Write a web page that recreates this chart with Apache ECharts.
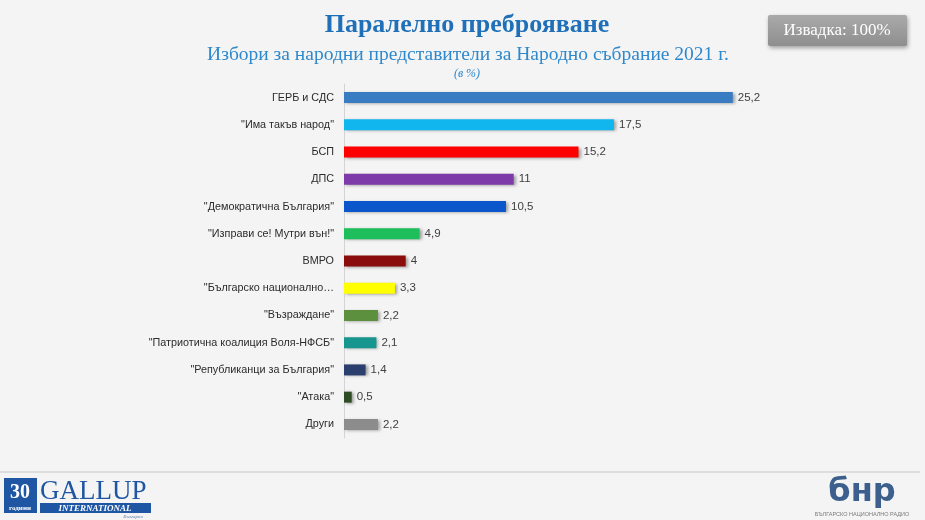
<!DOCTYPE html>
<html>
<head>
<meta charset="utf-8">
<title>Паралелно преброяване</title>
<script src="https://cdn.jsdelivr.net/npm/echarts@6/dist/echarts.min.js"></script>
<style>
  html, body { margin: 0; padding: 0; background: #f4f4f4; }
  #chart { width: 925px; height: 520px; }
</style>
</head>
<body>
<div id="chart"></div>
<script>
// данни от картинката
const parties = [
  'ГЕРБ и СДС',
  '"Има такъв народ"',
  'БСП',
  'ДПС',
  '"Демократична България"',
  '"Изправи се! Мутри вън!"',
  'ВМРО',
  '"Българско национално…',
  '"Възраждане"',
  '"Патриотична коалиция Воля-НФСБ"',
  '"Републиканци за България"',
  '"Атака"',
  'Други'
]
const values = [25.2, 17.5, 15.2, 11, 10.5, 4.9, 4, 3.3, 2.2, 2.1, 1.4, 0.5, 2.2]
const barColors = [
  '#3a7cc2', '#12b6ef', '#fe0000', '#7d3aa9', '#0c56cc', '#1dbe5b', '#8a0c0c',
  '#ffff00', '#5c8f3e', '#16968e', '#2b3f6f', '#2e4d25', '#8c8c8c'
]

const chart = echarts.init(document.getElementById('chart'))

const option = {
  backgroundColor: '#f4f4f4',
  animation: false,
  title: [
    {
      text: 'Паралелно преброяване',
      left: 462,
      top: 7,
      textAlign: 'center',
      textStyle: {
        fontFamily: 'Liberation Serif',
        fontWeight: 'bold',
        fontSize: 26,
        color: '#1f70b8'
      }
    },
    {
      text: 'Избори за народни представители за Народно събрание 2021 г.',
      left: 463,
      top: 40,
      textAlign: 'center',
      textStyle: {
        fontFamily: 'Liberation Serif',
        fontWeight: 'normal',
        fontSize: 19.5,
        color: '#2e88cc'
      }
    },
    {
      text: '(в %)',
      left: 462,
      top: 63,
      textAlign: 'center',
      textStyle: {
        fontFamily: 'Liberation Serif',
        fontStyle: 'italic',
        fontWeight: 'normal',
        fontSize: 12,
        color: '#2e88cc'
      }
    }
  ],
  grid: {
    left: 344,
    top: 84,
    width: 432,
    height: 354,
    containLabel: false
  },
  xAxis: {
    type: 'value',
    min: 0,
    max: 28,
    show: false
  },
  yAxis: {
    type: 'category',
    data: parties,
    inverse: true,
    axisLine: {
      show: true,
      lineStyle: { color: '#d4d4d4', width: 1 }
    },
    axisTick: { show: false },
    axisLabel: {
      margin: 10,
      color: '#2b2b2b',
      fontFamily: 'Liberation Sans',
      fontSize: 10.8
    }
  },
  series: [
    {
      type: 'bar',
      data: values.map((v, i) => ({ value: v, itemStyle: { color: barColors[i] } })),
      barWidth: 11,
      itemStyle: {
        shadowColor: 'rgba(0, 0, 0, 0.35)',
        shadowBlur: 3,
        shadowOffsetX: 2,
        shadowOffsetY: 1
      },
      label: {
        show: true,
        position: 'right',
        distance: 5,
        color: '#404040',
        fontFamily: 'Liberation Sans',
        fontSize: 11.5,
        formatter: p => String(p.value).replace('.', ',')
      }
    }
  ],
  graphic: [
    // Извадка
    {
      type: 'rect',
      shape: { x: 768, y: 15, width: 139, height: 31, r: 2 },
      style: {
        fill: new echarts.graphic.LinearGradient(0, 0, 0, 1, [
          { offset: 0, color: '#aaaaaa' },
          { offset: 1, color: '#8e8e8e' }
        ]),
        shadowColor: 'rgba(0,0,0,0.35)',
        shadowBlur: 4,
        shadowOffsetX: 1,
        shadowOffsetY: 2
      }
    },
    {
      type: 'text',
      x: 837,
      y: 31,
      style: {
        text: 'Извадка: 100%',
        fill: '#ffffff',
        font: '17px "Liberation Serif"',
        align: 'center',
        verticalAlign: 'middle'
      }
    },
    // линия отдолу
    {
      type: 'line',
      shape: { x1: 0, y1: 472, x2: 920, y2: 472 },
      style: { stroke: '#d6d6d6', lineWidth: 1.5 }
    },
    // Gallup лого
    {
      type: 'rect',
      shape: { x: 4, y: 478, width: 33, height: 35 },
      style: { fill: '#1f56a3' }
    },
    {
      type: 'text',
      x: 20, y: 493,
      style: { text: '30', fill: '#fff', font: 'bold 20px "Liberation Serif"', align: 'center', verticalAlign: 'middle' }
    },
    {
      type: 'text',
      x: 20, y: 508,
      style: { text: 'години', fill: '#fff', font: 'bold 7px "Liberation Serif"', align: 'center', verticalAlign: 'middle' }
    },
    {
      type: 'text',
      x: 40, y: 492,
      style: { text: 'GALLUP', fill: '#1f56a3', font: '27px "Liberation Serif"', verticalAlign: 'middle' }
    },
    {
      type: 'rect',
      shape: { x: 40, y: 503, width: 111, height: 10 },
      style: { fill: '#1f56a3' }
    },
    {
      type: 'text',
      x: 95, y: 508.5,
      style: { text: 'INTERNATIONAL', fill: '#fff', font: 'italic bold 9px "Liberation Serif"', align: 'center', verticalAlign: 'middle' }
    },
    {
      type: 'text',
      x: 133, y: 517,
      style: { text: 'България', fill: '#5a7ab0', font: 'italic 5px "Liberation Serif"', align: 'center', verticalAlign: 'middle' }
    },
    // БНР лого
    {
      type: 'text',
      x: 862, y: 493,
      style: { text: 'бнр', fill: '#3c5f8d', font: 'bold 32px "DejaVu Sans"', align: 'center', verticalAlign: 'middle' }
    },
    {
      type: 'text',
      x: 862, y: 514,
      style: { text: 'БЪЛГАРСКО НАЦИОНАЛНО РАДИО', fill: '#7a7a7a', font: '5.5px "Liberation Sans"', align: 'center', verticalAlign: 'middle' }
    }
  ]
}

chart.setOption(option)
</script>
</body>
</html>
